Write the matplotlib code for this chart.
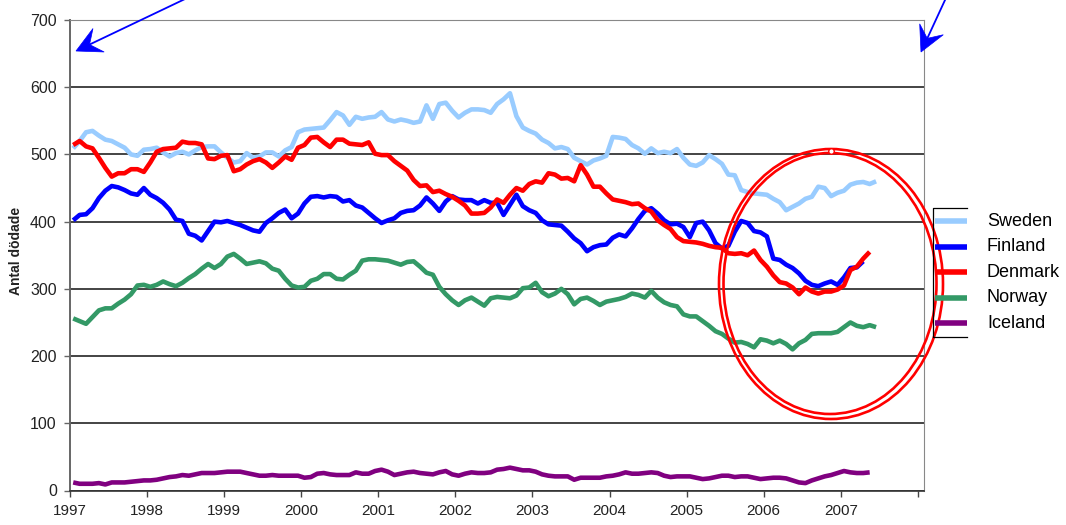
import numpy as np
import matplotlib.pyplot as plt
from matplotlib.lines import Line2D
from matplotlib.patches import Ellipse, Polygon

plt.rcParams['font.family'] = ['Liberation Sans', 'DejaVu Sans']

W, H = 1066, 525

# monthly road deaths (rolling), Jan 1997 onwards
sweden = [509, 520, 533, 535, 528, 522, 520, 515, 510, 500, 498, 507, 508, 510, 503, 497,
          502, 504, 500, 506, 511, 512, 512, 503, 495, 488, 490, 502, 495, 497, 503, 503,
          497, 506, 511, 533, 537, 538, 539, 540, 551, 563, 558, 544, 556, 553, 555, 556,
          563, 552, 549, 552, 550, 547, 549, 573, 553, 575, 577, 565, 555, 562, 567, 567,
          566, 562, 575, 582, 591, 557, 540, 535, 531, 522, 517, 509, 511, 508, 495, 490,
          485, 491, 494, 498, 526, 525, 523, 514, 509, 501, 509, 502, 504, 502, 508, 495,
          485, 483, 488, 499, 493, 486, 470, 469, 447, 444, 442, 441, 440, 434, 429, 417,
          422, 427, 434, 437, 452, 450, 438, 443, 446, 455, 458, 459, 456, 460]
finland = [402, 410, 411, 420, 435, 446, 453, 451, 447, 442, 440, 450, 440, 435, 428, 418,
           403, 401, 382, 379, 372, 386, 400, 399, 401, 398, 395, 391, 387, 385, 398, 405,
           413, 418, 405, 412, 427, 437, 438, 436, 438, 437, 430, 432, 424, 421, 413, 405,
           398, 402, 405, 413, 416, 417, 424, 436, 427, 416, 430, 438, 433, 432, 432, 427,
           432, 428, 428, 410, 425, 440, 423, 417, 413, 402, 396, 395, 394, 385, 375, 368,
           356, 362, 365, 366, 376, 381, 378, 390, 404, 416, 420, 412, 402, 396, 397, 392,
           377, 398, 400, 387, 368, 360, 364, 385, 401, 398, 386, 384, 378, 345, 343, 336,
           331, 323, 312, 306, 304, 308, 311, 306, 317, 331, 332, 341]
denmark = [514, 520, 512, 509, 495, 480, 467, 472, 472, 478, 478, 474, 488, 504, 508, 509,
           510, 519, 517, 517, 515, 494, 493, 498, 499, 475, 478, 485, 490, 493, 488, 480,
           488, 497, 492, 510, 514, 525, 526, 518, 511, 522, 522, 516, 515, 514, 518, 501,
           499, 499, 490, 483, 476, 462, 453, 454, 444, 446, 441, 437, 431, 424, 412, 412,
           413, 421, 433, 428, 440, 450, 446, 456, 460, 458, 472, 470, 464, 465, 460, 484,
           470, 452, 452, 442, 433, 431, 429, 426, 427, 420, 415, 402, 395, 389, 377, 371,
           370, 369, 367, 364, 362, 361, 353, 352, 353, 350, 357, 343, 333, 320, 310, 308,
           302, 292, 302, 296, 293, 296, 296, 299, 305, 328, 333, 345, 355]
norway = [256, 252, 248, 258, 268, 271, 271, 278, 284, 292, 305, 306, 303, 306, 311, 307,
          304, 309, 316, 322, 330, 337, 331, 337, 348, 352, 345, 337, 339, 341, 338, 330,
          327, 315, 305, 302, 303, 312, 315, 322, 322, 315, 314, 321, 327, 342, 344, 344,
          343, 342, 339, 336, 340, 341, 333, 324, 321, 303, 292, 283, 276, 283, 287, 281,
          275, 286, 288, 287, 286, 290, 301, 302, 309, 295, 289, 293, 300, 292, 277, 285,
          287, 282, 276, 281, 283, 285, 288, 293, 291, 287, 297, 287, 280, 276, 274, 262,
          259, 259, 252, 245, 237, 233, 226, 220, 221, 218, 213, 225, 223, 219, 223, 218,
          210, 219, 224, 233, 234, 234, 234, 236, 243, 250, 245, 243, 246, 243]
iceland = [12, 10, 10, 10, 11, 9, 12, 12, 12, 13, 14, 15, 15, 16, 18, 20,
           21, 23, 22, 24, 26, 26, 26, 27, 28, 28, 28, 26, 24, 22, 22, 23,
           22, 22, 22, 22, 19, 20, 25, 26, 24, 23, 23, 23, 27, 25, 25, 29,
           31, 28, 23, 25, 27, 28, 26, 25, 24, 27, 29, 24, 22, 25, 27, 26,
           26, 27, 31, 32, 34, 32, 30, 30, 28, 24, 22, 21, 21, 21, 16, 19,
           19, 19, 19, 21, 22, 24, 27, 25, 25, 26, 27, 26, 22, 20, 21, 21,
           21, 19, 17, 18, 20, 22, 22, 20, 21, 21, 19, 17, 18, 19, 19, 18,
           15, 12, 11, 15, 18, 21, 23, 26, 29, 27, 26, 26, 27]

countries = ['Sweden', 'Finland', 'Denmark', 'Norway', 'Iceland']
series = [sweden, finland, denmark, norway, iceland]
colors = ['#99CCFF', '#0000FF', '#FF0000', '#339966', '#800080']
years = list(range(1997, 2009))
year_labels = [str(y) for y in range(1997, 2008)] + ['']


def fx(x):
    return x / W


def fy(y):
    return 1 - y / H


fig = plt.figure(figsize=(W / 100, H / 100), dpi=100)
ax = fig.add_axes([fx(70), fy(490.5), (924 - 70) / W, (490.5 - 20) / H])

for name, vals, col in zip(countries, series, colors):
    t = 1997 + (np.arange(len(vals)) + 0.5) / 12
    ax.plot(t, vals, color=col, lw=3.3, solid_capstyle='butt', label=name)

ax.set_xlim(1997, 2008.08)
ax.set_ylim(0, 700)
ax.set_yticks(range(0, 701, 100))
ax.set_xticks(years)
ax.set_xticklabels(year_labels)
ax.yaxis.grid(True, color='#111111', lw=1.1)
ax.set_axisbelow(True)
ax.tick_params(axis='y', length=4.5, width=1, color='#666666', pad=5,
               labelsize=11.5, labelcolor='#222222')
ax.tick_params(axis='x', length=4.5, width=1, color='#444444', pad=5,
               labelsize=11, labelcolor='#222222')
ax.spines['left'].set_color('#666666')
ax.spines['left'].set_linewidth(1.4)
ax.spines['bottom'].set_color('#333333')
ax.spines['bottom'].set_linewidth(1.2)
ax.spines['top'].set_color('#888888')
ax.spines['right'].set_color('#888888')

fig.text(fx(16), fy(251), 'Antal dödade', rotation=90, ha='center', va='center',
         fontsize=10, fontweight='bold', color='#222222')

# legend, drawn by hand so its frame can stop short of the labels
ly = [221, 246.6, 272.2, 297.8, 323.4]
for name, col, y in zip(countries, colors, ly):
    fig.add_artist(Line2D([fx(935), fx(967)], [fy(y), fy(y)], color=col, lw=4,
                          solid_capstyle='butt', transform=fig.transFigure))
    fig.text(fx(987), fy(y), name, ha='left', va='center', fontsize=13, color='black')
fig.add_artist(Line2D([fx(967), fx(933), fx(933), fx(967)],
                      [fy(208), fy(208), fy(337), fy(337)],
                      color='black', lw=0.9, transform=fig.transFigure))

# double red ring around 2006-2007
for cx, cy, w, h in [(831, 284, 224, 270), (830, 283.5, 213, 261)]:
    fig.add_artist(Ellipse((fx(cx), fy(cy)), w / W, h / H, fill=False, ec='#FF0000',
                           lw=1.9, transform=fig.transFigure))
fig.add_artist(Line2D([fx(831)], [fy(151)], marker='o', ms=4, mfc='white', mec='#FF0000',
                      mew=1, transform=fig.transFigure))


def arrow(x0, y0, x1, y1):
    # straight shaft with a notched head, pixel coordinates
    d = np.array([x1 - x0, y1 - y0], float)
    u = d / np.hypot(*d)
    n = np.array([-u[1], u[0]])
    tip = np.array([x1, y1], float)
    back = tip - 25 * u
    notch = tip - 15 * u
    fig.add_artist(Line2D([fx(x0), fx(notch[0])], [fy(y0), fy(notch[1])], color='#0000FF',
                          lw=1.3, transform=fig.transFigure))
    pts = [tip, back + 13 * n, notch, back - 13 * n]
    fig.add_artist(Polygon([(fx(p[0]), fy(p[1])) for p in pts], closed=True, fc='#0000FF',
                           ec='#0000FF', lw=0.5, transform=fig.transFigure))


arrow(185, -1, 76, 51)
arrow(945.5, -1, 921, 52)

fig.savefig('out.png', dpi=100)
